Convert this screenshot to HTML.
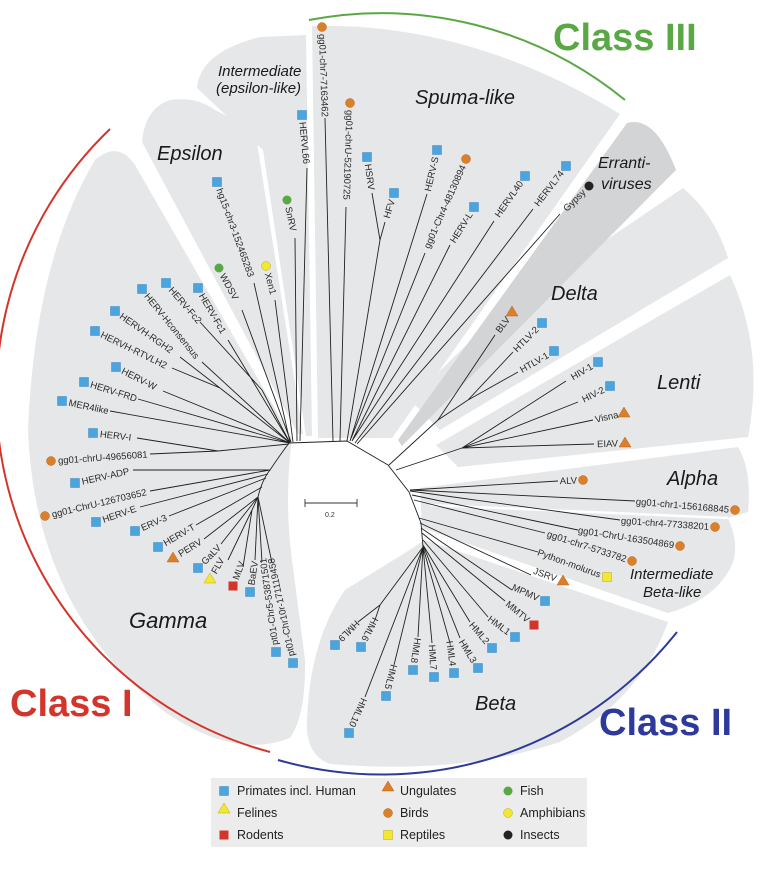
<!DOCTYPE html>
<html><head><meta charset="utf-8"><style>
html,body{margin:0;padding:0;background:#fff}
svg{display:block}
.t{font-family:"Liberation Sans",sans-serif;font-size:9.5px;fill:#2a2a2a}
.c{font-family:"Liberation Sans",sans-serif;font-style:italic;fill:#1a1a1a}
.l{stroke:#222;stroke-width:0.9;fill:none}
.b{fill:#4ca4de;stroke:#3b8cc0;stroke-width:0.5}
.o{fill:#dc7f2a;stroke:#b9661c;stroke-width:0.5}
.r{fill:#d4352b}
.y{fill:#f3e734;stroke:#b8ac20;stroke-width:0.5}
.g{fill:#5aa845}
.k{fill:#222}
.lg{font-family:"Liberation Sans",sans-serif;font-size:12.5px;fill:#222}
</style></head><body>
<svg width="761" height="877" viewBox="0 0 761 877" xmlns="http://www.w3.org/2000/svg">
<!-- regions -->
<g fill="#e6e7e8">
<path d="M292,438 L135,165 Q118,140 95,160 Q35,260 28,430 Q35,610 165,712 Q235,760 290,738 Q306,715 305,660 L292,560 Q284,500 292,438 Z"/>
<path d="M298,434 L142,142 Q145,108 170,100 Q195,96 215,110 L255,130 L303,434 Z"/>
<path d="M306,436 L263,150 L197,88 Q200,52 260,37 L306,35 L312,436 Z"/>
<path d="M318,438 L312,26 Q470,22 620,114 L392,438 Z"/>
<path d="M410,400 L500,312 L683,188 Q715,215 728,258 L440,430 Z"/>
<path d="M436,445 L730,275 Q765,350 748,437 L458,467 Z"/>
<path d="M420,488 L738,447 Q752,470 748,512 L728,518 Q740,545 732,565 Q715,600 668,613 L422,528 Z"/>
<path d="M425,540 L668,622 Q640,700 560,742 Q460,775 330,764 Q305,755 307,720 Q310,640 345,590 L400,556 Z"/>
</g>
<path d="M398,440 L627,123 Q655,115 676,170 L402,446 Z" fill="#d2d4d5"/>
<path d="M728,518 L430,505" stroke="#fff" stroke-width="2.5"/>
<!-- class arcs -->
<path d="M110,129 A369,369 0 0 0 270,752" fill="none" stroke="#d4352b" stroke-width="2"/>
<path d="M309,20 A386,386 0 0 1 625,100" fill="none" stroke="#5aa845" stroke-width="2"/>
<path d="M278,760 A377,377 0 0 0 677,632" fill="none" stroke="#2d3a9c" stroke-width="2"/>
<text x="553" y="50" font-family="Liberation Sans" font-weight="bold" font-size="38" fill="#5aa845">Class III</text>
<text x="10" y="716" font-family="Liberation Sans" font-weight="bold" font-size="38" fill="#d4352b">Class I</text>
<text x="599" y="735" font-family="Liberation Sans" font-weight="bold" font-size="38" fill="#2d3a9c">Class II</text>
<!-- clade labels -->
<text class="c" x="157" y="160" font-size="20">Epsilon</text>
<text class="c" x="218" y="76" font-size="15">Intermediate</text>
<text class="c" x="216" y="93" font-size="15">(epsilon-like)</text>
<text class="c" x="415" y="104" font-size="20">Spuma-like</text>
<text class="c" x="598" y="168" font-size="16">Erranti-</text>
<text class="c" x="601" y="189" font-size="16">viruses</text>
<text class="c" x="551" y="300" font-size="20">Delta</text>
<text class="c" x="657" y="389" font-size="20">Lenti</text>
<text class="c" x="667" y="485" font-size="20">Alpha</text>
<text class="c" x="630" y="579" font-size="15">Intermediate</text>
<text class="c" x="643" y="597" font-size="15">Beta-like</text>
<text class="c" x="129" y="628" font-size="22">Gamma</text>
<text class="c" x="475" y="710" font-size="20">Beta</text>
<!-- scale bar -->
<path d="M305,503 L357,503 M305,499 L305,507 M357,499 L357,507" stroke="#333" stroke-width="0.9"/>
<text x="325" y="517" font-family="Liberation Sans" font-size="7" fill="#333">0.2</text>
<!-- backbone & internal -->
<path class="l" d="M258,497 Q262,480 270,470 Q280,455 289,443 L347,441 L388,465 L409,492 L421,523 L423,547"/>
<path class="l" d="M262,390 L290,443 M220,388 L290,443 M218,451 L289,444 M252,510 L258,497 M380,240 L347,441 M438,420 L389,465 M468,400 L438,420 M462,448 L396,470 M380,605 L423,547"/>
<!-- branch lines -->
<path class="l" d="M228,340L290,443 M200,322L262,390 M202,362L290,443 M180,357L220,388 M172,368L220,388 M163,391L290,443 M138,399L290,443 M110,411L290,443 M137,438L218,451 M150,454L218,451 M133,470L270,470 M150,491L270,470 M140,507L268,474 M169,516L266,478 M196,525L262,487 M204,539L258,497 M221,544L258,497 M228,560L252,510 M243,567L252,510 M255,560L258,497 M262,562L258,497 M272,563L258,497"/>
<path class="l" d="M254,283L290,442 M242,310L291,442 M275,300L293,442 M295,238L297,441 M307,168L300,441 M325,118L333,441 M346,207L340,441 M372,193L380,240 M385,222L380,240 M427,194L350,441 M425,253L350,441 M450,245L352,441 M494,221L352,441 M533,209L355,443 M560,214L357,444"/>
<path class="l" d="M495,335L438,420 M513,352L468,400 M518,372L468,400 M566,381L462,448 M578,402L462,448 M593,420L462,448 M594,444L462,448 M558,481L410,490 M635,501L410,490 M620,520L410,491 M578,530L412,495 M545,533L414,500 M538,552L419,518 M531,575L420,523 M512,590L421,528 M505,601L422,533 M488,617L423,540 M470,622L423,545 M460,638L423,545 M450,643L423,547 M432,643L423,547 M418,637L423,547 M394,665L423,547 M365,697L423,547 M358,622L380,605 M375,620L380,605"/>
<!-- Gamma labels (start at marker) -->
<g class="t">
<text x="205" y="291.3" transform="rotate(60 198 288)">HERV-Fc1</text>
<text x="173" y="286.3" transform="rotate(49 166 283)">HERV-Fc2</text>
<text x="149" y="292.3" transform="rotate(51 142 289)">HERV-Hconsensus</text>
<text x="122" y="314.3" transform="rotate(35 115 311)">HERVH-RGH2</text>
<text x="102" y="334.3" transform="rotate(26 95 331)">HERVH-RTVLH2</text>
<text x="123" y="370.3" transform="rotate(27 116 367)">HERV-W</text>
<text x="91" y="385.3" transform="rotate(17.5 84 382)">HERV-FRD</text>
<text x="69" y="404.3" transform="rotate(12 62 401)">MER4like</text>
<text x="100" y="436.3" transform="rotate(6.5 93 433)">HERV-I</text>
<text x="58" y="464.3" transform="rotate(-4 51 461)">gg01-chrU-49656081</text>
<text x="82" y="486.3" transform="rotate(-12.6 75 483)">HERV-ADP</text>
<text x="52" y="519.3" transform="rotate(-13.4 45 516)">gg01-ChrU-126703652</text>
<text x="103" y="525.3" transform="rotate(-19 96 522)">HERV-E</text>
<text x="142" y="534.3" transform="rotate(-24 135 531)">ERV-3</text>
<text x="165" y="550.3" transform="rotate(-30 158 547)">HERV-T</text>
<text x="180" y="561.3" transform="rotate(-31.5 173 558)">PERV</text>
<text x="205" y="571.3" transform="rotate(-46 198 568)">GaLV</text>
<text x="217" y="582.3" transform="rotate(-60 210 579)">FLV</text>
<text x="240" y="589.3" transform="rotate(-70 233 586)">MLV</text>
<text x="257" y="595.3" transform="rotate(-81 250 592)">BaEV</text>
<text x="283" y="655.3" transform="rotate(-98 276 652)">pt01-Chr5-53871501</text>
<text x="300" y="666.3" transform="rotate(-102 293 663)">pt01-Chr10r-171119458</text>
<!-- top -->
<text x="224" y="185.3" transform="rotate(70 217 182)">hg15-chr3-152465283</text>
<text x="226" y="271.3" transform="rotate(61 219 268)">WDSV</text>
<text x="273" y="269.3" transform="rotate(75 266 266)">Xen1</text>
<text x="294" y="203.3" transform="rotate(78 287 200)">SnRV</text>
<text x="309" y="118.3" transform="rotate(84.6 302 115)">HERVL66</text>
<text x="329" y="30.3" transform="rotate(88 322 27)">gg01-chr7-7163462</text>
<text x="357" y="106.3" transform="rotate(92 350 103)">gg01-chrU-52190725</text>
<text x="374" y="160.3" transform="rotate(82 367 157)">HSRV</text>
<!-- right side (end at marker) -->
<text x="387" y="196.3" text-anchor="end" transform="rotate(-73 394 193)">HFV</text>
<text x="430" y="153.3" text-anchor="end" transform="rotate(-77 437 150)">HERV-S</text>
<text x="459" y="162.3" text-anchor="end" transform="rotate(-66 466 159)">gg01-Chr4-48130894</text>
<text x="467" y="210.3" text-anchor="end" transform="rotate(-58 474 207)">HERV-L</text>
<text x="518" y="179.3" text-anchor="end" transform="rotate(-55 525 176)">HERVL40</text>
<text x="559" y="169.3" text-anchor="end" transform="rotate(-52.5 566 166)">HERVL74</text>
<text x="582" y="189.3" text-anchor="end" transform="rotate(-44 589 186)">Gypsy</text>
<text x="505" y="315.3" text-anchor="end" transform="rotate(-53.5 512 312)">BLV</text>
<text x="535" y="326.3" text-anchor="end" transform="rotate(-45 542 323)">HTLV-2</text>
<text x="547" y="354.3" text-anchor="end" transform="rotate(-30 554 351)">HTLV-1</text>
<text x="591" y="365.3" text-anchor="end" transform="rotate(-30.7 598 362)">HIV-1</text>
<text x="603" y="389.3" text-anchor="end" transform="rotate(-26.6 610 386)">HIV-2</text>
<text x="618" y="416.3" text-anchor="end" transform="rotate(-12.7 624 413)">Visna</text>
<text x="618" y="446.3" text-anchor="end" transform="rotate(-2 625 443)">EIAV</text>
<text x="577" y="483.3" text-anchor="end" transform="rotate(-2 583 480)">ALV</text>
<text x="729" y="513.3" text-anchor="end" transform="rotate(5 735 510)">gg01-chr1-156168845</text>
<text x="709" y="530.3" text-anchor="end" transform="rotate(4 715 527)">gg01-chr4-77338201</text>
<text x="674" y="549.3" text-anchor="end" transform="rotate(9 680 546)">gg01-ChrU-163504869</text>
<text x="626" y="564.3" text-anchor="end" transform="rotate(18 632 561)">gg01-chr7-5733782</text>
<text x="600" y="580.3" text-anchor="end" transform="rotate(20 607 577)">Python-molurus</text>
<text x="556" y="584.3" text-anchor="end" transform="rotate(20 563 581)">JSRV</text>
<text x="538" y="604.3" text-anchor="end" transform="rotate(24 545 601)">MPMV</text>
<text x="527" y="628.3" text-anchor="end" transform="rotate(39.6 534 625)">MMTV</text>
<text x="508" y="640.3" text-anchor="end" transform="rotate(36.5 515 637)">HML1</text>
<text x="485" y="651.3" text-anchor="end" transform="rotate(50 492 648)">HML2</text>
<text x="471" y="671.3" text-anchor="end" transform="rotate(59 478 668)">HML3</text>
<text x="447" y="676.3" text-anchor="end" transform="rotate(82 454 673)">HML4</text>
<text x="427" y="680.3" text-anchor="end" transform="rotate(86.6 434 677)">HML7</text>
<text x="406" y="673.3" text-anchor="end" transform="rotate(98.6 413 670)">HML8</text>
<text x="379" y="699.3" text-anchor="end" transform="rotate(104.5 386 696)">HML5</text>
<text x="342" y="736.3" text-anchor="end" transform="rotate(114 349 733)">HML10</text>
<text x="328" y="648.3" text-anchor="end" transform="rotate(135 335 645)">HML9</text>
<text x="354" y="650.3" text-anchor="end" transform="rotate(117 361 647)">HML6</text>
</g>
<!-- markers -->
<g>
<rect class="b" x="193.5" y="283.5" width="9" height="9"/>
<rect class="b" x="161.5" y="278.5" width="9" height="9"/>
<rect class="b" x="137.5" y="284.5" width="9" height="9"/>
<rect class="b" x="110.5" y="306.5" width="9" height="9"/>
<rect class="b" x="90.5" y="326.5" width="9" height="9"/>
<rect class="b" x="111.5" y="362.5" width="9" height="9"/>
<rect class="b" x="79.5" y="377.5" width="9" height="9"/>
<rect class="b" x="57.5" y="396.5" width="9" height="9"/>
<rect class="b" x="88.5" y="428.5" width="9" height="9"/>
<circle class="o" cx="51" cy="461" r="4.5"/>
<rect class="b" x="70.5" y="478.5" width="9" height="9"/>
<circle class="o" cx="45" cy="516" r="4.5"/>
<rect class="b" x="91.5" y="517.5" width="9" height="9"/>
<rect class="b" x="130.5" y="526.5" width="9" height="9"/>
<rect class="b" x="153.5" y="542.5" width="9" height="9"/>
<polygon class="o" points="173,552 179,562 167,562"/>
<rect class="b" x="193.5" y="563.5" width="9" height="9"/>
<polygon class="y" points="210,573 216,583 204,583"/>
<rect class="r" x="228.5" y="581.5" width="9" height="9"/>
<rect class="b" x="245.5" y="587.5" width="9" height="9"/>
<rect class="b" x="271.5" y="647.5" width="9" height="9"/>
<rect class="b" x="288.5" y="658.5" width="9" height="9"/>
<rect class="b" x="212.5" y="177.5" width="9" height="9"/>
<circle class="g" cx="219" cy="268" r="4.5"/>
<circle class="y" cx="266" cy="266" r="4.5"/>
<circle class="g" cx="287" cy="200" r="4.5"/>
<rect class="b" x="297.5" y="110.5" width="9" height="9"/>
<circle class="o" cx="322" cy="27" r="4.5"/>
<circle class="o" cx="350" cy="103" r="4.5"/>
<rect class="b" x="362.5" y="152.5" width="9" height="9"/>
<rect class="b" x="389.5" y="188.5" width="9" height="9"/>
<rect class="b" x="432.5" y="145.5" width="9" height="9"/>
<circle class="o" cx="466" cy="159" r="4.5"/>
<rect class="b" x="469.5" y="202.5" width="9" height="9"/>
<rect class="b" x="520.5" y="171.5" width="9" height="9"/>
<rect class="b" x="561.5" y="161.5" width="9" height="9"/>
<circle class="k" cx="589" cy="186" r="4.5"/>
<polygon class="o" points="512,306 518,316 506,316"/>
<rect class="b" x="537.5" y="318.5" width="9" height="9"/>
<rect class="b" x="549.5" y="346.5" width="9" height="9"/>
<rect class="b" x="593.5" y="357.5" width="9" height="9"/>
<rect class="b" x="605.5" y="381.5" width="9" height="9"/>
<polygon class="o" points="624,407 630,417 618,417"/>
<polygon class="o" points="625,437 631,447 619,447"/>
<circle class="o" cx="583" cy="480" r="4.5"/>
<circle class="o" cx="735" cy="510" r="4.5"/>
<circle class="o" cx="715" cy="527" r="4.5"/>
<circle class="o" cx="680" cy="546" r="4.5"/>
<circle class="o" cx="632" cy="561" r="4.5"/>
<rect class="y" x="602.5" y="572.5" width="9" height="9"/>
<polygon class="o" points="563,575 569,585 557,585"/>
<rect class="b" x="540.5" y="596.5" width="9" height="9"/>
<rect class="r" x="529.5" y="620.5" width="9" height="9"/>
<rect class="b" x="510.5" y="632.5" width="9" height="9"/>
<rect class="b" x="487.5" y="643.5" width="9" height="9"/>
<rect class="b" x="473.5" y="663.5" width="9" height="9"/>
<rect class="b" x="449.5" y="668.5" width="9" height="9"/>
<rect class="b" x="429.5" y="672.5" width="9" height="9"/>
<rect class="b" x="408.5" y="665.5" width="9" height="9"/>
<rect class="b" x="381.5" y="691.5" width="9" height="9"/>
<rect class="b" x="344.5" y="728.5" width="9" height="9"/>
<rect class="b" x="330.5" y="640.5" width="9" height="9"/>
<rect class="b" x="356.5" y="642.5" width="9" height="9"/>
</g>
<!-- legend -->
<rect x="211" y="778" width="376" height="69" fill="#ececec"/>
<rect class="b" x="219.5" y="786.5" width="9" height="9"/>
<text class="lg" x="237" y="795">Primates incl. Human</text>
<polygon class="y" points="224,803 230,813 218,813"/>
<text class="lg" x="237" y="817">Felines</text>
<rect class="r" x="219.5" y="830.5" width="9" height="9"/>
<text class="lg" x="237" y="839">Rodents</text>
<polygon class="o" points="388,781 394,791 382,791"/>
<text class="lg" x="400" y="795">Ungulates</text>
<circle class="o" cx="388" cy="813" r="4.5"/>
<text class="lg" x="400" y="817">Birds</text>
<rect class="y" x="383.5" y="830.5" width="9" height="9"/>
<text class="lg" x="400" y="839">Reptiles</text>
<circle class="g" cx="508" cy="791" r="4.5"/>
<text class="lg" x="520" y="795">Fish</text>
<circle class="y" cx="508" cy="813" r="4.5"/>
<text class="lg" x="520" y="817">Amphibians</text>
<circle class="k" cx="508" cy="835" r="4.5"/>
<text class="lg" x="520" y="839">Insects</text>
</svg>
</body></html>
